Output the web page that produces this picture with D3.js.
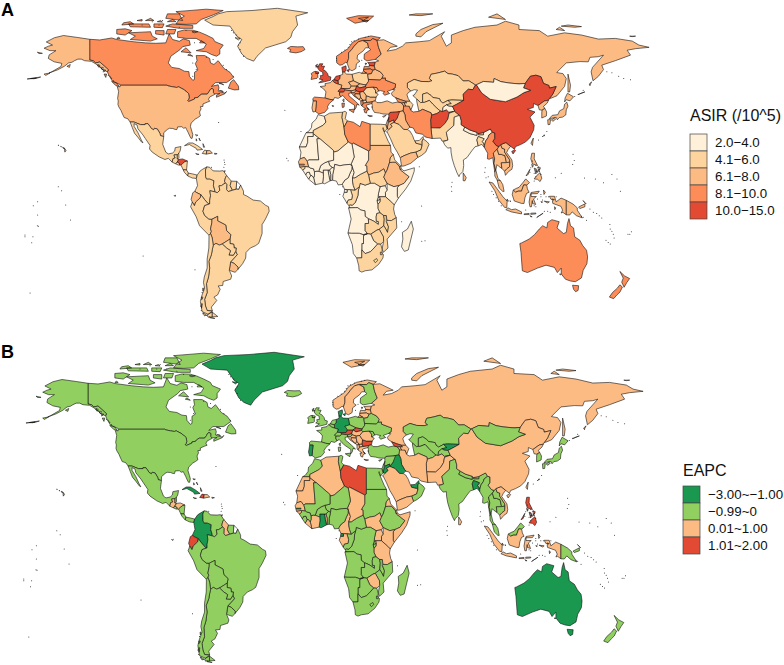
<!DOCTYPE html>
<html>
<head>
<meta charset="utf-8">
<script src="https://cdn.jsdelivr.net/npm/d3@7"></script>
<style>
  html, body { margin: 0; padding: 0; background: #fff; }
  svg { display: block; font-family: "Liberation Sans", Arial, sans-serif; }
</style>
</head>
<body>
<svg id="chart" width="784" height="665"></svg>
<script>
// one line = one group of ten
const countries = [
  "Canada","USA","Greenland","Mexico","Guatemala","Belize","El Salvador","Honduras","Nicaragua","Costa Rica",
  "Panama","Cuba","Haiti","Dominican Republic","Jamaica","Puerto Rico","Bahamas","Trinidad","Colombia","Venezuela",
  "Guyana","Suriname","French Guiana","Ecuador","Peru","Brazil","Bolivia","Paraguay","Uruguay","Argentina",
  "Chile","Iceland","UK","Ireland","Norway","Sweden","Finland","Denmark","Estonia","Latvia",
  "Lithuania","Poland","Germany","Netherlands","Belgium","France","Spain","Portugal","Switzerland","Austria",
  "Italy","Czechia","Slovakia","Hungary","Slovenia","Croatia","Bosnia","Serbia","Montenegro","Albania",
  "Macedonia","Greece","Bulgaria","Romania","Moldova","Belarus","Ukraine","Turkey","Cyprus","Russia",
  "Georgia","Armenia","Azerbaijan","Kazakhstan","Uzbekistan","Turkmenistan","Kyrgyzstan","Tajikistan","Afghanistan","Pakistan",
  "Iran","Iraq","Syria","Lebanon","Jordan","Israel","Saudi Arabia","UAE","Oman","Yemen",
  "India","Nepal","Bhutan","Bangladesh","Sri Lanka","Myanmar","Thailand","Laos","Cambodia","Vietnam",
  "China","Mongolia","North Korea","South Korea","Japan","Taiwan","Philippines","Malaysia","Indonesia","Papua New Guinea",
  "Australia","New Zealand","Morocco","Western Sahara","Mauritania","Algeria","Tunisia","Libya","Egypt","Sudan",
  "South Sudan","Ethiopia","Eritrea","Djibouti","Somalia","Kenya","Uganda","Tanzania","Rwanda","Burundi",
  "DR Congo","Congo","Gabon","Equatorial Guinea","Cameroon","Central African Republic","Chad","Niger","Nigeria","Benin",
  "Togo","Ghana","Burkina Faso","Ivory Coast","Liberia","Sierra Leone","Guinea","Guinea-Bissau","Senegal","Gambia",
  "Mali","Angola","Zambia","Malawi","Mozambique","Zimbabwe","Botswana","Namibia","South Africa","Lesotho",
  "Swaziland","Madagascar"
];
const asirValues = [
  9.2,7.1,5.2,5.5,5.6,5.2,5.4,11,5.5,5.5,
  5.5,5.5,5.5,6.5,5,5,5.5,5,5.4,5,
  5,5,null,6.8,5.3,5.4,7,5.3,7.1,5.5,
  5.6,8.8,12,9,9,7,9,11,10.5,9,
  9,5.5,7,11,11,7,8.5,7.5,11,7.5,
  8.8,7,7,11,7,9,7,7,7,9,
  6,8.5,6.5,5.5,7,7.5,9,7,6,7.5,
  9,7,5.5,5.5,5,5.5,5,3.8,11,5.5,
  8.5,7,11,11,6.5,7,5.5,5.5,5.5,6.5,
  3.8,3.5,5,5.5,7,8.5,7,7,7,7.5,
  11.5,3.5,7,7,7.5,7,7,7,7,7,
  9,9,3.5,3.5,3.5,5.5,5,9,6,7.5,
  5.5,7,5,5,3.5,3.5,3.5,5.5,3.5,3.5,
  3.5,5,3.5,3.5,3.5,5,3.5,3.5,3.5,3.5,
  3.5,3.5,3.5,3.5,3.5,3.5,3.5,5,6.5,7,
  3.5,3.5,5,5.5,5.5,5.5,3.5,3.5,5.5,5.5,
  5,3.5
];
const eapcValues = [
  -.5,-.4,-1.8,-.3,.4,-.3,-.2,.5,-.3,-.4,
  -.5,-1.5,1.5,.5,-.4,.3,-.4,-.4,-1.6,-.5,
  .5,-.4,null,1.5,-.4,-.4,-.3,-.5,-.6,-.5,
  -.3,-.4,-.5,-.4,.5,.4,-.5,-1.5,.5,.5,
  .4,-.5,-1.6,-.4,-.5,-.4,-.4,-1.6,-.5,1.5,
  -.5,-.4,1.5,.5,-.4,.5,.5,.5,.4,.4,
  .5,.4,1.5,.5,-.5,-.5,-.4,-.5,-.4,.6,
  1.5,.5,.5,-.5,-.4,-.5,-1.5,-.3,.5,.5,
  .5,-1.5,-.5,-.5,-1.2,-.5,.5,-1.5,-.4,.5,
  -.4,-.4,-.4,-1.5,.5,-.5,-.5,-.4,-.5,.5,
  .6,-.5,.5,-.6,-.5,.4,1.5,-.5,.5,-.5,
  -1.6,-.5,-.4,.4,.5,.5,-.5,1.5,-.5,-.5,
  .5,-.5,.5,.5,.5,.5,.5,.5,-.5,-.5,
  -.5,-.5,.5,-1.5,.4,-.5,.5,-.5,-.5,-.5,
  .4,-1.6,-.5,.5,.5,-.4,-.4,.4,.5,-1.2,
  -.5,-.5,-.5,-.4,-.5,.5,-.5,-.5,-.5,-.5,
  -.5,-.5
];

const asirLabels = ["2.0−4.0","4.1−6.0","6.1−8.0","8.1−10.0","10.0−15.0"];
const asirBreaks = [4.05,6.05,8.05,10];
const asirColors = ["#FEF0D9","#FDD49E","#FDBB84","#FC8D59","#E34A33"];
const eapcLabels = ["−3.00~−1.00","−0.99~0","0.01~1.00","1.01~2.00"];
const eapcBreaks = [-1,0,1];
const eapcColors = ["#1A9850","#91CF60","#FDBB84","#E34A33"];

// outlines as lon lat pairs, ";" starts another polygon
const outlines = {
"Canada":"-141 69.6,-135 69.3,-128 70.2,-125 69.5,-115 68.5,-108 68,-102 67.8,-96 68,-94 72,-92 69.5,-88 68.7,-85.5 69.8,-82 69,-81.5 67,-86 66.3,-87.5 65,-93 62,-94.5 59,-92.5 57,-88 56.5,-85 55.3,-82.3 55.1,-82 53,-80 51.2,-79 51.6,-79 54.8,-77 55.8,-78.5 58.7,-77.5 60,-78 62.3,-73 62.3,-70 61,-69.5 59,-67.5 58.3,-65 60,-61.5 56.5,-58 54.8,-55.8 52.5,-60 50.2,-66.5 50.2,-69 48.5,-65 49.2,-64.5 47.8,-65 46.5,-64 46,-61 45.5,-60 46.2,-61 45.2,-66 43.6,-66 44.5,-64 45.3,-67 45.1,-67.8 45.7,-67.8 47.1,-68.3 47.35,-69.2 47.45,-69.9 46.8,-70.3 46.2,-71.5 45,-74.7 45,-76.3 44.2,-76.8 43.6,-79 43.3,-79 42.8,-82.4 41.7,-83.1 42.1,-82.5 42.6,-82.1 43.6,-82.5 45.3,-83.5 46,-84.5 46.5,-84.9 46.9,-88.4 48.3,-89.5 48,-92 48.3,-94.6 48.7,-95.2 49,-122.8 49,-123 49.3,-125 50,-127.8 51,-130 54,-130.5 55,-130 56,-135 59.4,-137.5 59,-139 60,-141 60.3;-128 50.7,-125 50,-123.5 48.5,-125.5 48.8;-59 47.7,-55.5 46.9,-52.8 47,-53 48.6,-55.8 51.5,-57.5 50.5;-80 73.7,-76 72.8,-72 71.5,-68 70,-67 68.6,-62 67,-64 65,-64 63,-66 62,-69 62.8,-72 64,-78 64.5,-73.5 65.5,-72 67.5,-78 70,-84 70,-89 70.5,-89 73,-85 73.8;-117 69.5,-105 68.8,-101 69.8,-104 71,-105 73,-110 72.8,-118 72.5,-114 71;-125 72,-120 71.5,-116 73.5,-120 74.3,-125 74;-90 76.5,-84 76.3,-78 76.5,-75 78.5,-68 80.5,-62 82.5,-72 83.1,-90 82,-85 80,-88 78.5;-96 75.5,-88 74.5,-80 74.5,-80 75.8,-92 76.5;-96 79,-86 78,-88 81,-95 81;-117 75.2,-105 75,-106 76.5,-118 76.5;-87 64,-81 63.5,-84 65.8;-102 72,-97 71.5,-97 73.5,-102 73.5;-96 72,-91 72,-90 74,-95 74;-103 75,-98 74.8,-97 76.5,-103 76.5;-122 76,-115 76.5,-117 77.5,-121 77;-64.5 49.9,-61.7 49.2,-63 49.8;-64.3 46.6,-62 46,-62.5 46.5;-132.5 54,-131 54,-131.5 52.5;-80.5 73,-77 73,-79 72.5;-113 78,-110 77.8,-110 78.5;-108 78,-103 78,-105 79;-76 68,-73 68,-75 69;-83 62.5,-80 62,-82 63;-95 77.5,-90 77.5,-92 78.5;-101 77.5,-98 77.3,-99 78;-125 70,-123 70,-124 70.5",
"USA":"-124.7 48.4,-123 48.3,-122.8 49,-95.2 49,-94.6 48.7,-92 48.3,-89.5 48,-88.4 48.3,-84.9 46.9,-84.5 46.5,-83.5 46,-82.5 45.3,-82.1 43.6,-82.5 42.6,-83.1 42.1,-82.4 41.7,-79 42.8,-79 43.3,-76.8 43.6,-76.3 44.2,-74.7 45,-71.5 45,-70.3 46.2,-69.9 46.8,-69.2 47.45,-68.3 47.35,-67.8 47.1,-67.8 45.7,-67 44.9,-68.5 44.3,-70 43.7,-70.7 42.7,-70 41.8,-71.5 41.4,-74 40.6,-74 39.5,-75.5 39.4,-75.1 38.4,-76 37,-75.5 35.3,-77 34.5,-78.6 33.8,-81 32,-81.4 30.5,-80.5 28.2,-80 26.8,-80.4 25.2,-81.1 25.2,-81.8 26.2,-82.8 27.9,-83.7 29.2,-84.2 30,-85.4 29.7,-86.5 30.4,-89 30.3,-89.4 29.1,-90.5 29.2,-91.8 29.6,-93.8 29.7,-95 29.2,-97.2 27.7,-97.2 25.96,-99.1 26.4,-99.5 27.5,-101 29.4,-102.7 29.7,-103.2 29,-104.5 29.6,-106.5 31.75,-108.2 31.75,-108.2 31.33,-111 31.33,-114.8 32.5,-117.1 32.5,-118.5 34,-120.6 34.5,-121.9 36.6,-122.5 37.7,-123.8 39.3,-124.3 40.4,-124.1 42,-124.5 43,-123.9 46.2;-141 69.6,-148 70.4,-156.5 71.3,-161.9 70.3,-166.7 68.4,-163 67,-165.5 66.5,-168 65.6,-164.5 64.5,-161 64.5,-165 62.6,-165.5 61,-162 59.5,-157.5 58.8,-158 57.4,-163.5 55,-165 54.5,-160 55.9,-156 57.5,-153.5 59,-151.5 59.3,-150 60,-148 60.7,-146 60.7,-144 60,-140 59.7,-137.5 58.6,-135.5 57.5,-133 55.8,-130.5 55,-130 56,-135 59.4,-137.5 59,-139 60,-141 60.3;-154.5 57.5,-152.5 58.3,-153 57;-136.5 58,-135 58,-135.5 57;-134.5 57,-133 57,-133.5 55.8;-133 56,-131.5 55.8,-132.5 55;-172 63.8,-169 63.3,-171 63.2;-168 54,-164.5 54.5,-167 53.4;-178 51.8,-170 52.7,-172 52.2;-176 52,-172.5 52.2,-174 51.9;-156 20.8,-155 19.8,-155.7 19;-158.2 21.6,-157.7 21.4,-158 21.3;-159.7 22.2,-159.3 22.1,-159.5 21.9;-157 21.2,-156 20.8,-156.6 20.6",
"Greenland":"-73 78.2,-68 76,-58 75.5,-54 71,-51 69.5,-53.5 66.5,-51 63,-48 61,-44 59.8,-42 62,-37 65.7,-25 68.5,-22 70.5,-21 73,-18 76,-19 80,-12 81.5,-30 83.5,-45 82.5,-60 82,-65 81,-68 79.8;-55 70.3,-52 70,-53 69.3",
"Mexico":"-117.1 32.5,-114.8 32.5,-111 31.33,-108.2 31.33,-108.2 31.75,-106.5 31.75,-104.5 29.6,-103.2 29,-102.7 29.7,-101 29.4,-99.5 27.5,-99.1 26.4,-97.2 25.96,-97.8 22.5,-96 19,-94.5 18.2,-92 18.6,-90.7 19.5,-90.4 21,-87 21.5,-87.5 19.5,-88.3 18.5,-89.15 17.8,-91 17.8,-91 17.25,-90.4 16.4,-91.7 16.1,-92.2 14.5,-94.5 16.2,-96.5 15.7,-100 16.9,-104 19,-105.6 20.4,-105.3 22,-108 25,-109.5 26.7,-112.5 29.5,-113 31.2,-114.8 31.8,-114.7 30.5,-112.5 27.8,-110.5 24.5,-109.5 23.2,-110.3 23.5,-112.3 25.5,-114.5 27.5,-115.8 30",
"Guatemala":"-92.2 14.5,-91.7 16.1,-90.4 16.4,-91 17.25,-91 17.8,-89.15 17.8,-89.15 15.9,-88.2 15.75,-89.2 14.6,-90.1 13.75",
"Belize":"-89.15 17.8,-88.3 18.5,-88.2 16.5,-88.9 15.9,-89.15 15.9",
"El Salvador":"-90.1 13.75,-89.2 14.6,-87.8 13.9,-87.8 13.2,-88.5 13.2",
"Honduras":"-89.2 14.6,-88.2 15.75,-86 15.95,-83.2 15,-84.7 14.7,-86 13.9,-87 13.2,-87.8 13.2,-87.8 13.9",
"Nicaragua":"-83.2 15,-83.7 11,-85.7 11.1,-87 13.2,-86 13.9,-84.7 14.7",
"Costa Rica":"-83.7 11,-82.6 9.6,-83 8.3,-85 10,-85.7 11.1",
"Panama":"-82.6 9.6,-80 9.2,-77.4 8.7,-77.9 7.2,-80.3 7.4,-81.5 7.8,-83 8.3",
"Cuba":"-84.9 21.9,-82.5 23.1,-80 23.1,-77 21.8,-74.2 20.2,-77.5 19.9,-78 20.7,-82 22.4",
"Haiti":"-74.4 18.4,-72 18.1,-71.7 19.7,-73 19.9",
"Dominican Republic":"-71.7 19.7,-72 18.1,-68.4 18.6,-69.9 19.7",
"Jamaica":"-78.3 18.4,-76.3 18,-77.5 17.9",
"Puerto Rico":"-67.2 18.5,-65.6 18.3,-67 18",
"Bahamas":"-78.5 26.8,-77 26.6,-77.8 26.3;-78 25,-77.5 24.2,-78 24;-76.3 25.3,-75.5 24,-76 24.5;-74 22.8,-73 21.2,-73.7 21.2",
"Trinidad":"-61.9 10.1,-61 10.8,-61 10.1",
"Colombia":"-77.4 8.7,-75.6 10.6,-74.2 11.3,-71.7 12.4,-72.5 11,-72.4 8,-71.9 7,-70 7,-67.5 6.2,-67.8 4,-67 2,-67 1.2,-69.9 1.7,-69.5 -0.5,-70 -2.7,-70 -4.2,-70.8 -4.2,-73 -2.3,-75.2 -0.1,-77.6 0.8,-78.8 1.4,-77.2 4,-77.9 7.2",
"Venezuela":"-71.7 12.4,-70 12.2,-68 10.6,-64 10.5,-62 10.7,-60 8.5,-60.7 7.5,-61.2 5.9,-60.7 5.2,-63 4,-64.5 3.9,-64 1.9,-65.5 0.8,-67 1.2,-67 2,-67.8 4,-67.5 6.2,-70 7,-71.9 7,-72.4 8,-72.5 11",
"Guyana":"-60 8.5,-57.2 6,-57.9 4,-56.5 1.9,-59 1.3,-60 2.2,-59.9 4.5,-60.7 5.2,-61.2 5.9,-60.7 7.5",
"Suriname":"-57.2 6,-54 5.9,-54.3 2.4,-56.5 1.9,-57.9 4",
"French Guiana":"-54 5.9,-51.7 4.2,-52.8 2.3,-54.3 2.4",
"Ecuador":"-78.8 1.4,-77.6 0.8,-75.2 -0.1,-75.6 -1.5,-78.3 -3.4,-79 -5,-80.3 -3.4,-81 -2.2,-80 0.8",
"Peru":"-80.3 -3.4,-79 -5,-78.3 -3.4,-75.6 -1.5,-75.2 -0.1,-73 -2.3,-70.8 -4.2,-70 -4.2,-73 -5,-74 -7.5,-73 -9.4,-70.5 -11,-68.7 -11.1,-68.7 -12.5,-69.5 -15.5,-69 -16.5,-69.5 -17.5,-70.4 -18.3,-76 -14,-78 -10,-81.3 -5.5",
"Brazil":"-60.7 5.2,-59.9 4.5,-60 2.2,-59 1.3,-56.5 1.9,-54.3 2.4,-52.8 2.3,-51.7 4.2,-50 1.5,-50 0,-48 -0.7,-44.3 -2.5,-40 -2.9,-37 -4.8,-35.2 -5.5,-34.8 -7.5,-37 -11,-39 -13.5,-39 -17.5,-41 -21.9,-43 -23,-46 -24,-48.5 -26,-48.7 -28.5,-50.5 -31,-53.4 -33.7,-53.2 -32.6,-55.5 -30.9,-57.6 -30.2,-53.7 -27,-54.6 -25.6,-54.3 -24,-55.5 -24,-55.8 -22.3,-58 -22,-58 -20,-57.5 -18,-60 -16.2,-60.5 -13.7,-65.3 -11.8,-65.3 -9.8,-68.7 -11.1,-70.5 -11,-73 -9.4,-74 -7.5,-73 -5,-70 -4.2,-70 -2.7,-69.5 -0.5,-69.9 1.7,-67 1.2,-65.5 0.8,-64 1.9,-64.5 3.9,-63 4",
"Bolivia":"-68.7 -11.1,-65.3 -9.8,-65.3 -11.8,-60.5 -13.7,-60 -16.2,-57.5 -18,-58 -20,-62.6 -22.2,-64.3 -22.7,-66.3 -21.9,-67.9 -22.8,-68.5 -19.5,-69.5 -17.5,-69 -16.5,-69.5 -15.5,-68.7 -12.5",
"Paraguay":"-58 -20,-58 -22,-55.8 -22.3,-55.5 -24,-54.3 -24,-54.6 -25.6,-56 -27.3,-58.6 -27.2,-57.7 -25.2,-60 -24,-62.6 -22.2",
"Uruguay":"-57.6 -30.2,-55.5 -30.9,-53.2 -32.6,-53.4 -33.7,-55 -34.9,-58.4 -34,-58 -32",
"Argentina":"-66.3 -21.9,-64.3 -22.7,-62.6 -22.2,-60 -24,-57.7 -25.2,-58.6 -27.2,-56 -27.3,-54.6 -25.6,-53.7 -27,-57.6 -30.2,-58 -32,-58.4 -34,-57 -36.5,-57.6 -38,-62 -39,-62.3 -40.8,-65 -41,-63.8 -42.5,-65.3 -45,-67.5 -46,-65.8 -47.5,-69 -50.5,-68.4 -52.3,-71.5 -52,-72.5 -50,-73 -47,-71.5 -44,-71.9 -40,-70.7 -37,-70 -33,-70.5 -30,-69 -27,-68.4 -24.5,-67.9 -22.8;-68.6 -52.7,-65.2 -54.7,-68.6 -54.9",
"Chile":"-69.5 -17.5,-68.5 -19.5,-67.9 -22.8,-68.4 -24.5,-69 -27,-70.5 -30,-70 -33,-70.7 -37,-71.9 -40,-71.5 -44,-73 -47,-72.5 -50,-71.5 -52,-68.4 -52.3,-71 -53.7,-74.5 -52.5,-75.5 -48,-74.5 -45,-73 -42,-73.7 -39.5,-73.2 -37,-71.5 -33,-71.5 -29,-70.5 -24,-70.4 -18.3;-68.6 -52.7,-68.6 -54.9,-71 -55,-71.5 -54;-74.2 -42,-73.5 -42,-74 -43.3;-75 -49,-74.3 -49,-74.8 -51;-74 -53,-72 -54,-73 -54.5;-75 -46,-74 -46,-74.5 -47;-70 -55.2,-67 -55.6,-68.5 -55.3",
"Iceland":"-24 65.5,-22 66.4,-18 66.2,-14.7 66.3,-13.6 65,-16 64,-19 63.5,-22.7 63.9,-22 65",
"UK":"-5.5 50.1,-3.5 50.3,1.4 51.2,1.7 52.7,0.2 53,-0.2 54.2,-1.6 55.5,-3 56,-2 57.5,-4 57.6,-3 58.6,-5 58.6,-6.2 56.8,-5 55.5,-3.2 54.9,-3 53.4,-4.6 53.3,-4.3 52.3,-5.2 51.8,-3 51.4;-7.3 55.2,-5.5 54.9,-5.6 54.3,-7.3 54.2;-7.3 57.9,-6.2 58.4,-7 57;-6.5 57.5,-5.7 57.3,-6 57",
"Ireland":"-7.3 55.2,-7.3 54.2,-5.6 54.3,-6.1 54,-6 52.5,-6.5 52.1,-10 51.6,-9.5 53.3,-10 54.2,-8.3 55.1",
"Norway":"5.2 59,7 58,8.5 58.2,10.5 59.3,11.3 59,12.2 61,12.2 63.5,14 65,15.5 66.5,18 68.5,20.5 69,21 69.1,25 69,26.5 69.9,29 69.1,31 70.3,25.5 71.1,19 70,14.5 68.2,12 65.5,8 63.5,5 62;11 79,16 76.8,24 78,27 80,18 80.2;18 79,21 78.2,24 79.5;20 78,23 77.3,24 78",
"Sweden":"11.3 59,12.7 56,14.3 55.5,16.5 56.5,16.8 58.6,18.9 59.8,17.2 60.8,17.5 62.5,21 64.5,22.2 65.8,24 65.8,23.5 67.9,20.5 69,18 68.5,15.5 66.5,14 65,12.2 63.5,12.2 61",
"Finland":"24 65.8,25.3 65,21.5 63,21.3 60.8,23 59.9,28 60.6,31.5 62.9,29.9 66,29 69.1,26.5 69.9,25 69,21 69.1,23.5 67.9",
"Denmark":"8.6 54.9,9.9 54.8,10.8 56.4,10.6 57.7,8.2 57;11 55.7,12.5 56,12.2 55",
"Estonia":"23.5 59.2,28 59.4,27.4 57.6,24.4 57.9,24.4 58.4;22 58.9,23 58.7,22.2 58.2",
"Latvia":"21 56.1,21.5 57.5,24.4 57.3,24.4 57.9,27.4 57.6,28 56.1,26.6 55.7,25 56.3",
"Lithuania":"21 55.3,21 56.1,25 56.3,26.6 55.7,25.7 54.2,23.5 53.9,22.8 54.4",
"Poland":"14.2 53.9,18.5 54.8,19.8 54.4,22.8 54.4,23.5 53.9,23.7 52.6,24 50.8,22.5 49.1,18.8 49.6,15 51,14.7 52",
"Germany":"5.9 51,6.9 52,7.1 53.4,8.7 53.9,8.6 54.9,9.9 54.8,11 54,14.2 53.9,14.7 52,15 51,12.2 50.3,13.8 48.7,12.9 47.5,9.6 47.5,7.6 47.6,8.2 49,6 49.5",
"Netherlands":"3.4 51.4,4.7 53,7.1 53.4,6.9 52,5.9 51",
"Belgium":"2.5 51.1,3.4 51.4,5.9 51,6 49.5,4.2 50",
"France":"-1.8 43.3,-1.2 46,-2.5 47.3,-4.7 48.4,-1.5 48.7,-1.8 49.7,1.5 50.2,2.5 51.1,4.2 50,6 49.5,8.2 49,7.6 47.6,6 46.3,7 45.9,6.7 45,7.5 43.8,6 43.1,3.9 43.5,3.2 42.4,0.7 42.7;8.6 42.4,9.5 42.9,9.4 41.5",
"Spain":"-9 43,-8 43.7,-1.8 43.3,0.7 42.7,3.2 42.4,0.9 40.9,-0.3 39.4,0 38.6,-2 36.8,-5.4 36.1,-7.4 37.2,-7.1 39.6,-6.8 41.9,-8.8 41.9;2.4 39.9,3.3 39.8,3 39.3",
"Portugal":"-8.8 41.9,-6.8 41.9,-7.1 39.6,-7.4 37.2,-8.9 37,-9.5 38.8",
"Switzerland":"6 46.3,7.6 47.6,9.6 47.5,10.4 46.8,9 45.9,7 45.9",
"Austria":"9.6 47.5,12.9 47.5,13.8 48.7,17 48.7,16.2 46.9,13.8 46.5,10.4 46.8",
"Italy":"6.7 45,7 45.9,9 45.9,10.4 46.8,13.8 46.5,13.7 45.6,12.3 45.3,12.4 44.2,13.6 43.5,16.2 41.8,18.5 40.1,17 40.4,16.6 38.9,15.7 38,15.7 40,12.3 41.7,10.5 42.9,8.8 44.4,7.5 43.8;12.4 38,15.6 38.3,15.1 36.7;8.2 40.9,9.7 41,9.5 39.2,8.5 39",
"Czechia":"12.2 50.3,15 51,18.8 49.6,17 48.7,13.8 48.7",
"Slovakia":"17 48.7,18.8 49.6,22.5 49.1,22.2 48.4,18.8 47.8",
"Hungary":"16.2 46.9,17 48.7,18.8 47.8,22.2 48.4,22.9 47.9,21 46.2,18.9 45.9,16.5 46.5",
"Slovenia":"13.7 45.6,13.8 46.5,16.2 46.9,16.5 46.5,15.5 45.6",
"Croatia":"13.7 45.6,15.5 45.6,16.5 46.5,18.9 45.9,19 45,16 45.2,16 44.4,18.5 42.5,15.2 44.2,14.3 45.2",
"Bosnia":"16 45.2,19 45,19.3 43.5,18.5 42.5,16 44.4",
"Serbia":"18.9 45.9,21 46.2,22.7 44.3,22.5 42.3,20.7 42.2,19.3 43.5,19 45",
"Montenegro":"18.5 42.5,19.3 43.5,20.7 42.2,19.4 41.9",
"Albania":"19.4 41.9,20.7 42.2,20.9 40.9,20 39.7,19.4 40.5",
"Macedonia":"20.7 42.2,22.5 42.3,23 41.3,20.9 40.9",
"Greece":"20 39.7,20.9 40.9,23 41.3,26.3 41.7,26 40.8,23.5 40.3,22.6 40,23.3 38.7,24 38,23 37.6,22.8 36.5,21.7 36.8,21.2 38.3,22.5 38.3;23.5 35.5,26.3 35.2,24.8 34.9;23.3 39,24.5 38,24 38;25.8 39.3,26.5 39.2,26 39",
"Bulgaria":"22.7 44.3,25 43.7,28.5 43.7,28 42,26.3 41.7,23 41.3,22.5 42.3",
"Romania":"21 46.2,22.9 47.9,26.6 48.2,28.1 46.8,28.2 45.5,29.7 45,28.5 43.7,25 43.7,22.7 44.3",
"Moldova":"26.6 48.2,29 47.9,30 46.4,28.2 45.5,28.1 46.8",
"Belarus":"23.5 53.9,25.7 54.2,26.6 55.7,28 56.1,31 55,32.7 53.4,32 52.2,30.8 51.3,24 51.6,23.7 52.6",
"Ukraine":"22.5 49.1,24 50.8,24 51.6,30.8 51.3,32 52.2,34 52.3,34 51.3,40 49.6,39.8 47.8,38.2 47.1,35 46.2,36.5 45.3,33.5 44.5,32.5 45.4,33.6 46.1,31 46.6,30 46.4,29 47.9,26.6 48.2,22.9 47.9,22.2 48.4",
"Turkey":"26.2 40,26 40.8,26.3 41.7,28 42,29 41.2,31.5 41.2,35 42,38 41,41.5 41.5,43.6 41.1,44.8 39.7,44.5 37.5,42.4 37.2,41.2 37,36.7 36.8,36 36,32.5 36.1,30.5 36.5,27.5 36.8,26.3 38.3",
"Cyprus":"32.3 35,34.5 35.6,33 34.6",
"Russia":"28 60.6,30 59.9,28 59.4,27.4 57.6,28 56.1,31 55,32.7 53.4,32 52.2,34 52.3,34 51.3,40 49.6,39.8 47.8,38.2 47.1,39.5 47,37.5 45.4,38 44.4,40 43.4,43 42.5,46 41.8,48.5 41.8,47.5 43,46.7 44.7,47.5 45.7,49 46.4,47 48,47 50,51 51.6,55 50.7,59.5 50.6,61.5 51,60 52,61 53.9,65 54.5,69 55.3,71 54.2,73.5 54,77 53.3,80 50.9,83.3 51,87.3 49.1,87.8 49.2,92 50.7,98 50.3,98.3 52,102.3 50.6,107 50,113 49.6,116.7 49.8,119.7 53,123 53.5,126 52.8,127.5 49.8,130.7 48.9,131 47.7,135 48.4,133 45,131 43,132 43.2,135.5 44.3,140 48.5,141 52,139 54.2,135.3 54.7,141 59,149 59.6,154 59.5,155 61.5,160 61.8,163 62.5,156.5 57,155.7 55,156.8 51,160 53,163 56,162 58,170 60,179 62.5,177 64.7,182 65.4,190 66,184 67,180 68.8,170 70,160 69.7,150 71.5,140 72.5,130 71,125 73.5,113 74,113 76,105 77.7,100 76,87 75,80 73.5,73 71.5,73 68,70 66.5,67 71,69 73,60 69,54 68.5,46 68,44 66.5,40 65,35 64.3,37 66,41 66.5,33 69.4,29 69.1,29.9 66,31.5 62.9;19.8 54.4,21 55.3,22.8 54.4;52 71,55 70.7,58 73,68 76.8,62 76.2,55 74,52 72;95 79.5,105 78.5,100 81;142 54,143.5 49,143 46,142 46,142 50;138 75.5,146 75,150 75.3,142 76;178.5 71,182 71,180 70.8;48 80.5,55 80.2,62 81,52 81;135 74,140 73.5,137 75;152 46,150 45.5,148 44.8;156 50.5,154.5 49.5,155 49",
"Georgia":"40 43.4,43 42.5,46 41.8,46.5 41,45 41.2,43.6 41.1,41.5 41.5",
"Armenia":"43.6 41.1,45 41.2,46.5 39,44.8 39.7",
"Azerbaijan":"45 41.2,46.5 41,46 41.8,48.5 41.8,50.3 40.3,49 37.7,48 39.6,46.5 39",
"Kazakhstan":"47 50,47 48,49 46.4,51 47,53 46.8,51 44.6,50.2 44.4,52.5 42.8,54.8 41.2,56 41.3,56 45,58.6 45.6,61 44.4,62 43.5,66 43,66.5 41.9,68 41,71 42.2,73.3 42.4,80.3 42.2,80 45,83 47.2,85.7 47,87.3 49.1,83.3 51,80 50.9,77 53.3,73.5 54,71 54.2,69 55.3,65 54.5,61 53.9,60 52,61.5 51,59.5 50.6,55 50.7,51 51.6",
"Uzbekistan":"56 45,56 41.3,57 41.3,60 42.2,62 40.5,64 39,66.5 37.4,67.8 37.2,68 39,70 40.2,73 40.8,71 42.2,68 41,66.5 41.9,66 43,62 43.5,61 44.4,58.6 45.6",
"Turkmenistan":"52.5 41.8,53.8 37.3,56 38.2,61 36.6,61.3 35.6,64.5 36.3,66.5 37.4,64 39,62 40.5,60 42.2,57 41.3,56 41.3,54.8 41.2,52.5 42.8",
"Kyrgyzstan":"71 42.2,73 40.8,70 40.2,71.5 39.6,73.7 39.5,76 40.4,80.3 42.2,73.3 42.4",
"Tajikistan":"68 39,67.8 37.2,70 37.9,71.5 36.8,75 37.4,73.7 39.5,71.5 39.6,70 40.2",
"Afghanistan":"61.3 35.6,60.7 33.5,60.9 29.9,66.3 29.8,69.3 31.9,71 34,71.6 36.4,74.9 37.3,71.5 36.8,70 37.9,67.8 37.2,66.5 37.4,64.5 36.3",
"Pakistan":"60.9 29.9,61.6 25.1,66.6 25.3,67.5 23.9,71 24.4,70 27.9,74.5 31,74.7 34.7,77.8 35.5,74.9 37.3,71.6 36.4,71 34,69.3 31.9,66.3 29.8",
"Iran":"44.8 39.7,48 39.6,49 37.7,50.5 37,53.8 37.3,56 38.2,61 36.6,61.3 35.6,60.7 33.5,60.9 29.9,61.6 25.1,57.5 25.8,56 27,52 27.6,50.5 29.8,48.5 30.2,47.7 31,46 33.2,45.5 35.8,44.5 37.5",
"Iraq":"42.4 37.2,44.5 37.5,45.5 35.8,46 33.2,47.7 31,48.5 30.2,48 30,47 29.1,44.7 29.2,42 31.4,39 32.3,41 34.4,41.2 37",
"Syria":"36.7 36.8,41.2 37,42.4 37.2,41 34.4,39 32.3,38.8 33.4,36 32.4,35.8 33.4,36 34.6,36 36",
"Lebanon":"35.1 33.1,36 34.6,35.8 33.4",
"Jordan":"35.5 31.8,36 32.4,38.8 33.4,39 32.3,37 31.5,38 30.5,36.1 29.2,35 29.4",
"Israel":"34.3 31.3,35 29.4,35.5 31.8,35.7 33,35.1 33.1",
"Saudi Arabia":"34.6 28,36.1 29.2,38 30.5,37 31.5,39 32.3,42 31.4,44.7 29.2,47 29.1,48.4 28.5,50 26.5,50.8 24.8,52 23,55 22.5,55.7 22,55 20,52 19,49 18.6,45 17.4,43.2 16.7,42.8 16.4,41 19,39 21.5,37 25,35 28",
"UAE":"51.6 24.1,54 24.2,56.3 26,56.4 24.9,55.7 24,55.7 22,55 22.5,52 23",
"Oman":"56.4 24.9,58.7 23.6,59.8 22.5,57.8 19,55.3 17.5,53.1 16.6,52 19,55 20,55.7 22,55.7 24",
"Yemen":"43.2 16.7,45 17.4,49 18.6,52 19,53.1 16.6,49 14,45 12.8,43.5 12.7,42.8 16.4",
"India":"77.8 35.5,74.7 34.7,74.5 31,70 27.9,71 24.4,68.2 23.7,69 22.3,70.8 20.8,72.7 21,72.8 19,73.5 16,74.7 13,76.3 9.8,77.5 8,78 8.9,79.8 10.3,80.3 13,80.1 15.5,82.3 16.6,85 19.5,87 21.4,88.9 21.8,88.1 24.5,88.9 26,92.4 25,91.2 23.7,92 23,92.6 22,93.3 24,94.7 25.5,95.2 26.7,97.3 27.9,96 29.4,92 27.8,92 26.8,89 26.8,88.8 27.3,88.1 27.9,88.1 26.5,84 27.3,80.1 28.8,81 30.2,78.8 31.3,78.9 33,78 35.5",
"Nepal":"80.1 28.8,81 30.2,84 28.9,88.1 27.9,88.1 26.5,84 27.3",
"Bhutan":"88.8 27.3,92 27.8,92 26.8,89 26.8",
"Bangladesh":"88.9 21.8,88.1 24.5,88.9 26,92.4 25,91.2 23.7,92 23,92.6 21,91 22.5",
"Sri Lanka":"80 9.7,81.8 7.5,81 6.1,80 6.2",
"Myanmar":"92.6 21,92.6 22,93.3 24,94.7 25.5,95.2 26.7,97.3 27.9,98.7 27.6,98.7 25,97.6 23.9,99.5 22,101.2 21.5,100.1 20.3,97.8 18.6,98.6 16,98.2 14,99.2 11,98.7 10,98 13.5,97.5 16.5,95.4 15.8,94.3 16,94.5 18.5",
"Thailand":"100.1 20.3,100.5 19.5,101 18,102.5 18,104.7 17.4,105.6 14.3,102.5 14.2,102.9 11.7,100.9 12.7,100 13.4,99.3 11,99.9 9.2,100.5 7.3,102 6.2,101 5.6,100 6.6,98.7 8.3,98.7 10,99.2 11,98.2 14,98.6 16,97.8 18.6",
"Laos":"101.2 21.5,102.2 22.4,103 20.7,104.5 20.4,104.5 19,107.5 15.5,107.6 14.5,105.6 14.3,104.7 17.4,102.5 18,101 18,100.5 19.5,100.1 20.3",
"Cambodia":"102.5 14.2,105.6 14.3,107.6 14.5,107.5 12.5,105.8 11.5,104.5 10.4,102.9 11.7",
"Vietnam":"102.2 22.4,105.3 23.3,108 21.6,106.6 20.2,105.7 18.8,108.8 15.5,109.3 13,108.8 11.3,107 10.4,105 8.6,104.5 10.4,105.8 11.5,107.5 12.5,107.6 14.5,107.5 15.5,104.5 19,104.5 20.4,103 20.7",
"China":"74.9 37.3,77.8 35.5,78 35.5,78.9 33,78.8 31.3,81 30.2,84 28.9,88.1 27.9,88.8 27.3,92 27.8,96 29.4,97.3 27.9,98.7 27.6,98.7 25,97.6 23.9,99.5 22,101.2 21.5,102.2 22.4,105.3 23.3,108 21.6,110.3 20.3,111 21.5,114 22.4,117 23.6,119.5 25.5,121.7 29,122 31,119.5 34.7,122.5 37,118 38.2,121.5 39,121.6 40.8,124.3 39.9,128 41.9,130.5 42.3,131 43,133 45,135 48.4,131 47.7,130.7 48.9,127.5 49.8,126 52.8,123 53.5,119.7 53,116.7 49.8,115.7 47.8,119.8 46.7,116 45.7,111.8 43.7,105 41.6,96 42.7,91 45.5,87.8 49.2,87.3 49.1,85.7 47,83 47.2,80 45,80.3 42.2,76 40.4,73.7 39.5,75 37.4;108.7 19.3,110.5 20.1,111 19.7,109.5 18.2",
"Mongolia":"87.8 49.2,92 50.7,98 50.3,98.3 52,102.3 50.6,107 50,113 49.6,116.7 49.8,115.7 47.8,119.8 46.7,116 45.7,111.8 43.7,105 41.6,96 42.7,91 45.5",
"North Korea":"124.3 39.9,128 41.9,130.5 42.3,129.7 41,127.5 39.5,128.3 38.6,126.7 37.8,125 38",
"South Korea":"126.7 37.8,128.3 38.6,129.4 37,129.2 35.2,126.5 34.3,126.5 37",
"Japan":"130.9 34,132.7 35.5,136 35.8,137 37.5,139.5 38.5,140 40.5,141.3 41.4,142 39.6,141 38,140.7 35.7,138.8 34.7,136.8 34.5,135.7 33.5,135 34.6,132.5 34.2;140 41.5,140.3 43.3,141.7 45.4,145.3 43.8,143.2 42,141 42.5;130 33.5,131.7 33.6,131.3 31.4,130.2 31.3;132.2 33.5,134 34.3,134.7 33.8,133 32.8;127.6 26.6,128.3 26.7,127.7 26.1",
"Taiwan":"121.5 25.3,121 22,120.1 23",
"Philippines":"120.6 18.5,122.2 18.5,122 16,124 13,121 13.7,120 16;122 7,123.5 8.5,125.5 9.8,126.5 7.3,125.5 5.8,124 6.8;117.2 8.4,119.5 11.3,118.5 9;124.3 12.5,125.7 12,125.2 11;124.5 11.3,125.2 10.2,124.8 10.1;122 11.8,123.2 11.5,122.5 10.6;122.5 10.5,123.5 10.5,123 9.2;123.5 11.2,124 10,123.7 9.8;120.5 13.5,121.5 13,121 12.2",
"Malaysia":"100.1 6.5,102 6.2,103.4 4.5,104.2 1.4,103.4 1.4,101.3 2.9,100.4 5.5;109.6 2,111 1,112.5 1.5,114.5 1.5,115.8 4.3,117.6 4.2,119.2 5.3,117 7,115.5 5.5,113 3.2,111.3 2.7",
"Indonesia":"109.6 2,111 1,112.5 1.5,114.5 1.5,115.8 4.3,117.6 4.2,118 2.5,119 1,117.5 0.5,116.5 -1.5,116 -4,114.5 -4,110.2 -2.9,109 0;95.3 5.6,97.5 5.2,100.5 2.1,103.5 -1,106 -3,105.8 -5.8,104.5 -5.8,101 -2.5,98.7 1.7;105.2 -6.8,106.5 -6,108.6 -6.8,111 -6.5,114.5 -7.8,114.5 -8.7,108.5 -7.8;119.5 -5.5,120.4 -5.5,120.9 -2.7,121 -4,122.9 -4.5,121.6 -2,123.3 -0.9,120.2 -0.9,120.2 0.9,125 1.5,124 0.4,119.8 0.3,119 -3.4;116 -8.7,119 -8.5,119 -9,116 -9;120 -8.4,123 -8.3,123 -8.7,120 -8.9;123.5 -10.3,127.3 -8.4,125 -9.5;131 -0.8,134 -0.8,135 -3.3,137.9 -1.6,141 -2.6,141 -9.1,139 -8,138 -8.3,138.8 -7,137.8 -5.3,133 -4,132.8 -2.7,134 -2.3,132 -2.2;128 -3,131 -3.3,130 -3.8;127.5 2,128.6 1,127.8 0;126 -3.2,127 -3.3,126.5 -3.7;119.5 -9.5,120.8 -10,120 -10;134 -5.5,134.8 -6,134.2 -6.8;106 -2,106.8 -3,105.8 -2.8;107.6 -2.8,108.2 -3,107.8 -3.2",
"Papua New Guinea":"141 -2.6,145 -4.3,147.5 -6,147.5 -7,150.5 -10.5,147 -9.5,144.5 -7.8,143 -9.2,141 -9.1;148.3 -5.6,152 -4.2,152 -5.5,149 -6.3;150.8 -2.7,152.7 -4.2,152.3 -3.8",
"Australia":"113.5 -22,114.2 -26,115 -34.2,118 -35,124 -33,129 -31.7,134 -32.7,135.7 -35,138 -33,138 -35.6,140.5 -38,143.5 -38.8,146.4 -39.1,150 -37.4,151 -34,153.2 -31,153.6 -28,153 -25,150.8 -23,149 -20.5,146 -19,145.3 -15,143.5 -14,142.6 -10.8,141.7 -13,141 -17,139.3 -17.5,135.5 -15,136.8 -12.2,132.5 -11.3,130 -12.5,129.5 -15,127 -14,125 -15.5,122.2 -18,119 -20,114.5 -21.7;144.7 -40.7,148.3 -40.9,148 -43,146.5 -43.6,145.3 -42.5;137 -35.7,138 -35.7,137.5 -36",
"New Zealand":"172.7 -34.5,175.5 -36.5,178.5 -37.7,176.8 -39.5,175.2 -41.6,173.8 -39.3,174.7 -37.5;172.7 -40.5,174.2 -41.5,172.8 -43.7,171 -45,169 -46.7,166.5 -46,168.3 -44,171.2 -42",
"Morocco":"-5.9 35.8,-2.2 35.1,-1.2 32.5,-3 31,-8.7 28.7,-8.7 27.7,-13 27.7,-11.5 28.3,-9.8 30,-9.5 32,-7 33.8",
"Western Sahara":"-13 27.7,-8.7 27.7,-8.7 26,-12 26,-12 23.4,-13 21.3,-17 21.3,-15 24.5",
"Mauritania":"-17 21.3,-13 21.3,-12 23.4,-12 26,-8.7 26,-8.7 27.3,-4.8 25,-6.5 25,-5.5 15.5,-11.5 15.5,-12.2 14.8,-14 16.6,-16.5 16,-16 19",
"Algeria":"-8.7 27.7,-8.7 28.7,-3 31,-1.2 32.5,-2.2 35.1,1 36.5,8.6 36.9,8.3 34.5,9.5 30.2,9.9 27,12 23.5,5.8 19.5,3.3 19,3.2 19.8,-4.8 25,-8.7 27.3",
"Tunisia":"8.6 36.9,10 37.3,11 36.8,10.2 34,11.5 33,9.5 30.2,8.3 34.5",
"Libya":"11.5 33,15 32.4,19 30.4,20 32.8,25 31.6,25 20,24 19.5,15 23,14.2 22.6,12 23.5,9.9 27,9.5 30.2",
"Egypt":"25 31.6,31 31.5,34.2 31.3,34.9 29.5,33.5 28,32.6 30,32.4 29.5,35.6 23.9,37 22,25 22",
"Sudan":"24 19.5,25 20,25 22,37 22,37.3 19,38.6 18,36.9 16.5,36.4 14.3,35 11,34 9.6,33 11.5,30 10,27 9.6,24 8.7,23 10.5,22.9 12.8,22 13,24 15.5",
"South Sudan":"24 8.7,27 9.6,30 10,33 11.5,34 9.6,33 7.8,35 5,33.9 3.9,30.8 3.5,27.5 5,25 5",
"Ethiopia":"36.4 14.3,38 14.5,40 14.5,42.3 12.5,42.9 11,48 8,45 5,42 4,39 3.5,36 4.5,35 5,33 7.8,34 9.6,35 11",
"Eritrea":"38.6 18,39.5 15.5,43.1 12.7,42.3 12.5,40 14.5,38 14.5,36.4 14.3,36.9 16.5",
"Djibouti":"42.3 12.5,43.1 12.7,43.3 11.5,42.9 11",
"Somalia":"42.9 11,43.3 11.5,45 10.6,51.1 12,51 10.4,49 6,46 2.5,41.6 -1.7,41 -0.8,41 3,42 4,45 5,48 8",
"Kenya":"35 5,36 4.5,39 3.5,42 4,41 3,41 -0.8,41.6 -1.7,39.2 -4.7,37.7 -3.5,34 -1,34 1,35 2",
"Uganda":"30.8 3.5,33.9 3.9,35 2,34 1,34 -1,30.5 -1,29.6 -1.4,29.9 0.6",
"Tanzania":"30.5 -1,34 -1,37.7 -3.5,39.2 -4.7,38.8 -6.5,39.5 -9,40.4 -10.4,37.5 -11.7,34.9 -11.6,34.5 -9.5,32.9 -9.4,30.7 -8.2,29.5 -6.2,29.5 -4.4,30.7 -3.4,30.8 -2.3",
"Rwanda":"29.6 -1.4,30.5 -1,30.8 -2.3,29 -2.8",
"Burundi":"29 -2.8,30.8 -2.3,30.7 -3.4,29.5 -4.4",
"DR Congo":"12.2 -6,13 -5.8,12.3 -5,13 -4.6,14.5 -4.8,16.2 -3.5,17.7 -0.5,18 2,18.6 3.5,19 5,22 4.2,25 5,27.5 5,30.8 3.5,29.9 0.6,29.6 -1.4,29 -2.8,29.5 -4.4,29.5 -6.2,30.7 -8.2,28.9 -8.5,28.5 -10,28.6 -12,29.8 -12.1,29.8 -13.4,27.2 -12,25.3 -11.3,23.9 -10.9,22 -9.8,21.8 -7.3,19.5 -7,17.5 -5.9,16.3 -5.9",
"Congo":"11.2 -3.9,12.3 -5,13 -4.6,14.5 -4.8,16.2 -3.5,17.7 -0.5,18 2,18.6 3.5,16 2,13.3 2.2,14.4 -0.5,14 -2.2,12 -2.4,11.6 -2.9",
"Gabon":"9.6 1,11.3 1,11.3 2.2,13.3 2.2,14.4 -0.5,14 -2.2,12 -2.4,11.6 -2.9,11.2 -3.9,8.8 -0.8",
"Equatorial Guinea":"9.6 1,11.3 1,11.3 2.2,9.8 2.3",
"Cameroon":"8.5 4.5,9.8 2.3,11.3 2.2,13.3 2.2,16 2,15 4,14.5 6,14.5 7.5,15.5 9.9,15 11,14.2 12.8,14.1 11.2,13 9.5,12 7.5,10 6.5,8.6 4.9",
"Central African Republic":"14.5 6,15 4,16 2,18.6 3.5,19 5,22 4.2,25 5,24 8.7,23 10.5,19 9,16 7.5,14.5 7.5",
"Chad":"14.2 22.6,15 23,24 19.5,24 15.5,22 13,22.9 12.8,23 10.5,19 9,16 7.5,14.5 7.5,15.5 9.9,15 11,14.2 12.8,13.7 13.7,15.5 16.8",
"Niger":"12 23.5,14.2 22.6,15.5 16.8,13.7 13.7,14.2 12.8,13 13.5,10 13.3,7 12.9,4 13.5,3.6 11.7,2.4 12.2,1 13,0.2 14.9,3.3 15.4,3.3 19,5.8 19.5",
"Nigeria":"2.7 6.4,5 6,6 4.3,8.5 4.5,8.6 4.9,10 6.5,12 7.5,13 9.5,14.1 11.2,14.2 12.8,13 13.5,10 13.3,7 12.9,4 13.5,3.6 11.7,2.8 9",
"Benin":"1.6 6.2,2.7 6.4,2.8 9,3.6 11.7,2.4 12.2,0.9 11,1.6 9",
"Togo":"1.2 6.1,1.6 6.2,1.6 9,0.9 11,0 11,0.5 8.5",
"Ghana":"-3.2 5.1,-2 4.8,1.2 6.1,0.5 8.5,0 11,-2.8 11,-2.8 9.6,-2.7 8",
"Burkina Faso":"-5.5 10.4,-2.8 9.6,-2.8 11,0 11,0.9 11,2.4 12.2,1 13,0.2 14.9,-2 14.2,-4.3 13",
"Ivory Coast":"-7.5 4.4,-3.2 5.1,-2.7 8,-2.8 9.6,-5.5 10.4,-6.5 10.5,-8 10.2,-8 8.5,-8.5 7.5",
"Liberia":"-11.5 6.9,-7.5 4.4,-8.5 7.5,-9.5 8.5,-10.3 8.5",
"Sierra Leone":"-13.2 8.8,-11.5 6.9,-10.3 8.5,-11 10,-12.5 9.9",
"Guinea":"-15 11,-13.2 8.8,-12.5 9.9,-11 10,-10.3 8.5,-9.5 8.5,-8.5 7.5,-8 8.5,-8 10.2,-8.5 11.5,-10.5 11.9,-11.4 12.4,-13.7 12.6,-13.7 11.7",
"Guinea-Bissau":"-16.7 12.3,-13.7 12.6,-13.7 11.7,-15 11",
"Senegal":"-16.5 16,-14 16.6,-12.2 14.8,-11.4 12.4,-13.7 12.6,-16.7 12.3,-17.5 14.7",
"Gambia":"-16.8 13.6,-14 13.6,-14 13.2,-16.8 13.2",
"Mali":"-4.8 25,3.2 19.8,3.3 19,3.3 15.4,0.2 14.9,-2 14.2,-4.3 13,-5.5 10.4,-6.5 10.5,-8 10.2,-8.5 11.5,-10.5 11.9,-11.4 12.4,-12.2 14.8,-11.5 15.5,-5.5 15.5,-6.5 25",
"Angola":"12.2 -6,16.3 -5.9,17.5 -5.9,19.5 -7,21.8 -7.3,22 -9.8,23.9 -10.9,24 -13,22 -13,22 -16.2,23.4 -17.6,20.8 -18,18.5 -17.4,13.9 -17.4,11.8 -17.3,13.7 -11",
"Zambia":"28.9 -8.5,30.7 -8.2,32.9 -9.4,33.3 -11,33 -14,30.3 -15.6,28.9 -16,25.3 -17.8,23.4 -17.6,22 -16.2,22 -13,24 -13,23.9 -10.9,25.3 -11.3,27.2 -12,29.8 -13.4,29.8 -12.1,28.6 -12,28.5 -10",
"Malawi":"32.9 -9.4,34.5 -9.5,34.5 -12,35.8 -14.5,35.2 -17,34.2 -15.5,33 -14,33.3 -11",
"Mozambique":"34.9 -11.6,37.5 -11.7,40.4 -10.4,40.7 -15,35 -20,35.5 -24,32.8 -25.9,32 -24.5,32.9 -21,32.8 -19,30.3 -15.6,33 -14,34.2 -15.5,35.2 -17,35.8 -14.5,34.5 -12",
"Zimbabwe":"25.3 -17.8,28.9 -16,30.3 -15.6,32.8 -19,32.9 -21,31.2 -22.3,29.4 -22.2,27 -20.7",
"Botswana":"21 -18.3,23.4 -17.6,25.3 -17.8,27 -20.7,29.4 -22.2,26.5 -24.6,25 -25.7,22 -26.5,20 -24.8,20 -22,21 -22",
"Namibia":"11.8 -17.3,13.9 -17.4,18.5 -17.4,20.8 -18,23.4 -17.6,21 -18.3,21 -22,20 -22,20 -28.4,17 -28.5,15 -26.5,14.4 -22.5",
"South Africa":"17 -28.5,20 -28.4,20 -24.8,22 -26.5,25 -25.7,26.5 -24.6,29.4 -22.2,31.2 -22.3,32 -24.5,32 -26.5,32.8 -26.9,32.5 -28.5,30 -31.3,26 -33.8,22 -34.2,20 -34.8,18.4 -34.2,18.2 -32",
"Lesotho":"27 -29.6,28.8 -28.7,29.4 -29.6,28 -30.6",
"Swaziland":"31 -25.8,32 -26,32 -27,31 -27",
"Madagascar":"49.3 -12,50.5 -15.5,47.5 -24.9,45.2 -25.5,43.5 -23.5,44.3 -20,44 -17,47 -15.5"
};

// specks too small to have a shape at this size
const islets = [
  [-159.6,3.5],[-157.6,1.7],[-171.8,-3.2],[-174.4,-5],[-171.8,-9.2],[-155.2,-4.7],[-152.3,-11.4],[-172,-14],[-171.4,-14.2],
  [-179.3,-18.2],[-179.3,-19],[-174.6,-18.9],[-175.3,-21.6],[-109.4,-27.6],[-78.7,-33.8],[-176.3,-44.2],
  [-91,-0.5],[-90.5,-0.8],[-90.2,-0.3],[-61.5,15.5],[-61.2,14.5],[-61,13.5],[-61.6,12.2],[-69,12.2],[-64.7,32.3],
  [-24.4,16.2],[-23.6,15.1],[-16,28.3],[-25.5,37.8],[43.6,-12.2],[57.4,-20.7],[55.4,-5.2],[55.5,-21],[54,12.5],
  [73,3.5],[73.4,5.5],[73.2,1.5],[7,0],[8.7,3.5],
  [145,18],[145.7,15.2],[144.8,13.4],[93,12],[92.8,10],[93.5,7.5],[94.8,8],
  [127,26],[124.5,24.4],[129.5,28.3],[146,44],[148,45],[151,46.8],[155,49],
  [165,55],[168,54.6],[172,53],[175,52],[179,51.5],
  [150,-9.8],[151,-10.2],[153,-11.5],[155,-6.5],[157,-8],[159,-8.5],[160.5,-9.5],[162,-10.5],[166.8,-13.5],
  [167,-15.5],[168,-16.5],[168.8,-17.8],[169.3,-19.5],[164.5,-20.5],[165.8,-21.5],[167,-22.2],
  [177.5,-17.8],[178.6,-17.8],[179.5,-16.7],[173,1.5],[171,7],[168,9],[163,5.3],[158.2,6.9],[151.8,7.4],[138,9.5],[134.5,7.5]
];

// broken coasts: fjords and skerries that read as dark specks
const coastSpecks = [
  [-129,53],[-128,52],[-127,51],[-130,53.5],[-128.5,52.5],[-134,56.5],[-133,55],[-135,57.5],[-136,58.2],
  [5,61],[5,60],[8,63.8],[10,64.8],[12,66],[13,67.3],[14,68.5],[15.5,69],[18,69.7],[22,70.5],[24,71],
  [-74.5,-44],[-75,-47],[-75.5,-50],[-75,-52],[-74,-53.5],[-72,-54.3],[-70,-54.8],
  [-52,68],[-53,67],[-52,65],[-56,72.5],[-57,73.5],[-54,71.5],[-50,62],
  [-100,76],[-98,78],[-104,77.5],[-110,76],[-94,76],[-88,75],[-84,73.5],[-79,68],[-72,61.5],[-78,56],[-80,59],[-80,53],[-68,60.5],[-62,58],[-60,56],[-56,53],
  [122,9.5],[123,13],[124,12],[125,11],[121,15],[120,12],[119.5,10],[123,8],[122,6],[126,9],
  [126,0],[129,-1],[130.5,-1],[133,-2],[135,-1],[128,-7.5],[130,-7.5],[131.5,-8],[117,-7],[122,-5],[123,-5.5],[124,-2],[126,-1],[127,-2.5],
  [98,0],[99.5,-1.5],[101,-3],[97,1.5],[102.5,-5],[18.5,57.5],[20,60.2]
];

const panels = [
  { letter: "A", letterY: 16, lon: [23.8, 649.1], lat: [-6.2, 328.3], values: asirValues,
    breaks: asirBreaks, colors: asirColors, labels: asirLabels, title: "ASIR (/10^5)",
    legendX: 690, titleY: 121, legendY: 134, textX: 715 },
  { letter: "B", letterY: 358, lon: [22.6, 643.1], lat: [337.8, 672.3], values: eapcValues,
    breaks: eapcBreaks, colors: eapcColors, labels: eapcLabels, title: "EAPC",
    legendX: 683, titleY: 476, legendY: 486, textX: 708 }
];

const svg = d3.select("#chart");

function toRings(text) {
  return text.split(";").map(ring => {
    const pts = ring.split(",").map(p => p.trim().split(" ").map(Number));
    pts.push(pts[0]);
    return [pts];
  });
}

const features = countries.map((name, i) => ({
  type: "Feature",
  properties: { name, index: i },
  geometry: { type: "MultiPolygon", coordinates: toRings(outlines[name]) }
}));

panels.forEach(p => {
  const x = d3.scaleLinear().domain([-180, 190]).range(p.lon);
  const y = d3.scaleLinear().domain([90, -60]).range(p.lat);
  const path = d3.geoPath(d3.geoTransform({
    point(lon, lat) { this.stream.point(x(lon), y(lat)); }
  })).pointRadius(0.5);
  const color = d3.scaleThreshold().domain(p.breaks).range(p.colors);

  const g = svg.append("g");
  g.selectAll("path.country")
    .data(features)
    .enter()
    .append("path")
    .attr("class", "country")
    .attr("d", path)
    .attr("fill", d => {
      const v = p.values[d.properties.index];
      return v === null ? "#fff" : color(v);
    })
    .attr("stroke", "#111")
    .attr("stroke-width", 0.6)
    .attr("stroke-linejoin", "round");

  g.append("path")
    .datum({ type: "MultiPoint", coordinates: islets.concat(coastSpecks) })
    .attr("d", path)
    .attr("fill", "#222");

  svg.append("text")
    .attr("x", 1)
    .attr("y", p.letterY)
    .attr("font-size", 18)
    .attr("font-weight", "bold")
    .text(p.letter);

  // legend
  svg.append("text")
    .attr("x", p.legendX)
    .attr("y", p.titleY)
    .attr("font-size", 16)
    .attr("fill", "#111")
    .text(p.title);

  const keys = svg.append("g").selectAll("g")
    .data(p.labels)
    .enter()
    .append("g")
    .attr("transform", (d, i) => "translate(0," + (p.legendY + i * 17) + ")");

  keys.append("rect")
    .attr("x", p.legendX)
    .attr("width", 17)
    .attr("height", 17)
    .attr("fill", (d, i) => p.colors[i])
    .attr("stroke", "#444")
    .attr("stroke-width", 0.7);

  keys.append("text")
    .attr("x", p.textX)
    .attr("y", 13)
    .attr("font-size", 13.3)
    .attr("fill", "#111")
    .text(d => d);
});
</script>
</body>
</html>
